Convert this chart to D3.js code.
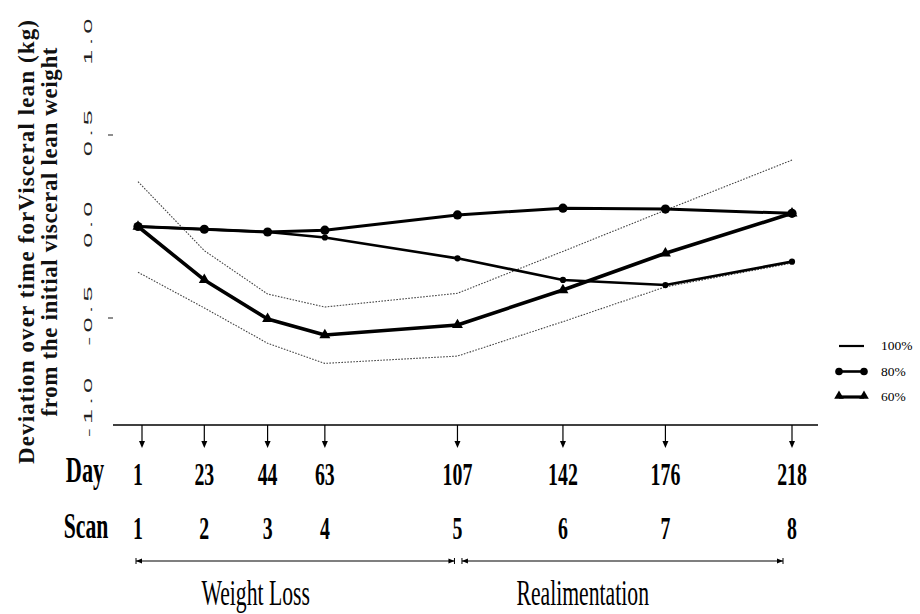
<!DOCTYPE html>
<html>
<head>
<meta charset="utf-8">
<script src="https://cdn.jsdelivr.net/npm/d3@7"></script>
<style>
  body { margin: 0; background: #fff; }
  svg { display: block; }
</style>
</head>
<body>
<svg id="chart" width="920" height="614"></svg>
<script>
// Scan schedule
const days  = [1, 23, 44, 63, 107, 142, 176, 218];
const scans = [1, 2, 3, 4, 5, 6, 7, 8];

// Deviation of visceral lean from initial weight (kg), by feeding level
const lean100 = [0, -0.015, -0.03, -0.06, -0.174, -0.292, -0.32, -0.192];
const lean80  = [0, -0.015, -0.03, -0.02, 0.063, 0.10, 0.095, 0.072];
const lean60  = [0, -0.292, -0.505, -0.593, -0.538, -0.347, -0.146, 0.072];

// Dotted envelope around the 60% group
const band60Upper = [0.245, -0.132, -0.369, -0.44, -0.365, -0.136, 0.089, 0.363];
const band60Lower = [-0.25, -0.445, -0.638, -0.748, -0.708, -0.52, -0.33, -0.20];

// Axis ticks
const yTicks      = [1.0, 0.5, 0.0, -0.5, -1.0];
const yTickLabels = ["1.0", "0.5", "0.0", "-0.5", "-1.0"];
const yTickMarks  = [0.5, -0.5];

// Experimental phases
const phaseNames = ["Weight Loss", "Realimentation"];
const phaseStart = [1, 107];
const phaseEnd   = [107, 218];

// Legend entries
const legendNames = ["100%", "80%", "60%"];

const svg = d3.select("#chart");
const serif = "'Liberation Serif', 'Times New Roman', serif";
const sans  = "'Liberation Sans', Arial, sans-serif";

const x = d3.scaleLinear().domain([1, 218]).range([138, 792]);
const y = d3.scaleLinear().domain([-1, 1]).range([409.5, 43.5]);

// ---- y axis title (two rotated lines) ----
const titleLines = [
  { text: "Deviation over time forVisceral lean (kg)", bx: 34, cy: 242, len: 444 },
  { text: "from the initial visceral lean weight",      bx: 57, cy: 232, len: 369 }
];
titleLines.forEach(t => {
  svg.append("text")
    .attr("transform", `translate(${t.bx},${t.cy}) rotate(-90)`)
    .attr("text-anchor", "middle")
    .attr("font-family", serif)
    .attr("font-weight", "bold")
    .attr("font-size", 23)
    .attr("textLength", t.len)
    .attr("lengthAdjust", "spacing")
    .attr("fill", "#111")
    .text(t.text);
});

// ---- y tick labels: rotated, widely stretched digits ----
yTicks.forEach((v, i) => {
  svg.append("g")
    .attr("transform", `translate(92,${y(v) - 4}) rotate(-90) scale(2.6,1)`)
    .append("text")
    .attr("text-anchor", "middle")
    .attr("font-family", sans)
    .attr("font-size", 10.5)
    .attr("letter-spacing", 1.6)
    .attr("fill", "#222")
    .text(yTickLabels[i]);
});
svg.selectAll("line.ytick")
  .data(yTickMarks)
  .join("line")
  .attr("class", "ytick")
  .attr("x1", 108).attr("x2", 113)
  .attr("y1", d => y(d)).attr("y2", d => y(d))
  .attr("stroke", "#444").attr("stroke-width", 1.2);

// ---- dotted envelope ----
const line = d3.line().x((d, i) => x(days[i])).y(d => y(d));
[band60Upper, band60Lower].forEach(b => {
  svg.append("path")
    .attr("d", line(b))
    .attr("fill", "none")
    .attr("stroke", "#444")
    .attr("stroke-width", 1.1)
    .attr("stroke-dasharray", "1.6,1.4");
});

// ---- series ----
const series = [
  { name: "100%", values: lean100, width: 2.6, marker: "dot" },
  { name: "80%",  values: lean80,  width: 3.0, marker: "circle" },
  { name: "60%",  values: lean60,  width: 3.6, marker: "triangle" }
];
const tri = d3.symbol().type(d3.symbolTriangle).size(52);

series.forEach(s => {
  svg.append("path")
    .attr("d", line(s.values))
    .attr("fill", "none")
    .attr("stroke", "#000")
    .attr("stroke-width", s.width)
    .attr("stroke-linejoin", "round");
  const g = svg.append("g");
  s.values.forEach((v, i) => {
    if (s.marker === "triangle") {
      g.append("path").attr("d", tri)
        .attr("transform", `translate(${x(days[i])},${y(v)})`)
        .attr("fill", "#000");
    } else {
      g.append("circle")
        .attr("cx", x(days[i])).attr("cy", y(v))
        .attr("r", s.marker === "circle" ? 4.6 : 3.1)
        .attr("fill", "#000");
    }
  });
});

// ---- bottom time axis with scan arrows ----
svg.append("line")
  .attr("x1", 113).attr("x2", 818).attr("y1", 425).attr("y2", 425)
  .attr("stroke", "#000").attr("stroke-width", 1.3);

days.forEach((d, i) => {
  const xx = x(d) + (i === 0 ? 4 : 0);
  svg.append("line")
    .attr("x1", xx).attr("x2", xx).attr("y1", 425).attr("y2", 443)
    .attr("stroke", "#000").attr("stroke-width", 1.2);
  svg.append("path")
    .attr("d", `M${xx - 3},${441} L${xx + 3},${441} L${xx},${448} Z`)
    .attr("fill", "#000");
});

// condensed bold row labels
function condensed(txt, cx, base, size, weight) {
  svg.append("g")
    .attr("transform", `translate(${cx},${base}) scale(0.62,1)`)
    .append("text")
    .attr("text-anchor", "middle")
    .attr("font-family", serif)
    .attr("font-weight", weight)
    .attr("font-size", size)
    .attr("fill", "#000")
    .text(txt);
}
condensed("Day", 85, 482, 36, "bold");
condensed("Scan", 86, 538, 35, "bold");
days.forEach(d => condensed(String(d), x(d), 485, 32, "bold"));
scans.forEach((s, i) => condensed(String(s), x(days[i]), 539, 32, "bold"));

// ---- phase range arrows ----
phaseNames.forEach((name, i) => {
  const x0 = x(phaseStart[i]) + (i === 0 ? -2 : 4.5);
  const x1 = x(phaseEnd[i]) - (i === 0 ? 3 : 9);
  const yy = 561;
  svg.append("line")
    .attr("x1", x0).attr("x2", x1).attr("y1", yy).attr("y2", yy)
    .attr("stroke", "#000").attr("stroke-width", 1.1);
  svg.append("path")
    .attr("d", `M${x0},${yy} L${x0 + 6},${yy - 2.5} L${x0 + 6},${yy + 2.5} Z`)
    .attr("fill", "#000");
  svg.append("path")
    .attr("d", `M${x1},${yy} L${x1 - 6},${yy - 2.5} L${x1 - 6},${yy + 2.5} Z`)
    .attr("fill", "#000");
  svg.append("line")
    .attr("x1", x0).attr("x2", x0).attr("y1", yy - 3).attr("y2", yy + 3)
    .attr("stroke", "#000").attr("stroke-width", 1);
  svg.append("line")
    .attr("x1", x1).attr("x2", x1).attr("y1", yy - 3).attr("y2", yy + 3)
    .attr("stroke", "#000").attr("stroke-width", 1);
  const mid = (x(phaseStart[i]) + x(phaseEnd[i])) / 2 - 42;
  condensed(name, mid, 605, 35, "normal");
});

// ---- legend ----
legendNames.forEach((name, i) => {
  const ly = 346 + i * 25.5;
  const s = series[i];
  svg.append("line")
    .attr("x1", 839).attr("x2", 864).attr("y1", ly).attr("y2", ly)
    .attr("stroke", "#000").attr("stroke-width", s.width - 0.4);
  [839, 864].forEach(lx => {
    if (s.marker === "circle") {
      svg.append("circle").attr("cx", lx).attr("cy", ly).attr("r", 3.8).attr("fill", "#000");
    } else if (s.marker === "triangle") {
      svg.append("path").attr("d", d3.symbol().type(d3.symbolTriangle).size(40))
        .attr("transform", `translate(${lx},${ly - 1})`).attr("fill", "#000");
    }
  });
  svg.append("text")
    .attr("x", 881).attr("y", ly + 4)
    .attr("font-family", serif)
    .attr("font-size", 13.5)
    .attr("fill", "#000")
    .text(name);
});
</script>
</body>
</html>
